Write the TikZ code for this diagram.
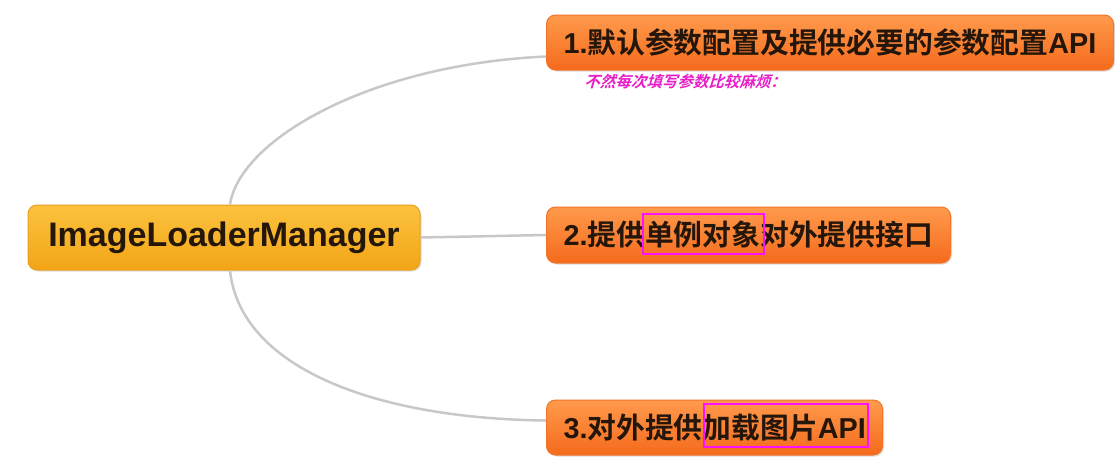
\documentclass[tikz,border=0pt]{standalone}
\usepackage{fontspec}
\newfontfamily\cjkb{Noto Sans CJK SC Bold}
\newfontfamily\latb{Liberation Sans Bold}
\newcommand{\lt}[1]{{\latb #1}}
\usetikzlibrary{shadows,calc}
\definecolor{orgtop}{HTML}{FF9A4C}
\definecolor{orgbot}{HTML}{F56A1C}
\definecolor{orgline}{HTML}{F0742A}
\definecolor{goldtop}{HTML}{FCC23E}
\definecolor{goldbot}{HTML}{F2A516}
\definecolor{goldline}{HTML}{E8A020}
\definecolor{txt}{HTML}{24160A}
\definecolor{conn}{HTML}{C8C8C8}
\definecolor{mag}{HTML}{FF10FF}
\definecolor{note}{HTML}{E81EC8}
\tikzset{
  topic/.style={rounded corners=9pt, top color=orgtop, bottom color=orgbot, draw=orgline, line width=1pt,
    drop shadow={shadow xshift=1.5pt, shadow yshift=-1.5pt, opacity=0.25},
    text=txt, font=\cjkb\fontsize{28.8}{32}\selectfont, inner sep=0pt, anchor=west, align=left},
  central/.style={rounded corners=9pt, top color=goldtop, bottom color=goldbot, draw=goldline, line width=1pt,
    drop shadow={shadow xshift=1.5pt, shadow yshift=-1.5pt, opacity=0.25},
    text=txt, font=\latb\fontsize{34}{38}\selectfont, inner sep=0pt},
  conline/.style={draw=conn, line width=2.5pt},
  hilite/.style={draw=mag, line width=2pt, fill=none},
  notetext/.style={text=note, font=\cjkb\fontsize{15.5}{17}\selectfont, inner sep=0pt, anchor=west}
}
\begin{document}
\begin{tikzpicture}[x=1pt,y=-1pt]
\useasboundingbox (0,0) rectangle (1119,472);
\fill[white] (0,0) rectangle (1119,472);
% central
\node[central, minimum width=392pt, minimum height=65pt] (c) at (224,237.5) {ImageLoaderManager};
% topics
\node[topic, minimum width=567pt, minimum height=55pt, text width=567pt] (b1) at (546,42.5) {\hspace{17pt}\lt{1.}默认参数配置及提供必要的参数配置\lt{API}};
\node[topic, minimum width=404pt, minimum height=56pt, text width=404pt] (b2) at (546,235) {\hspace{17pt}\lt{2.}提供单例对象对外提供接口};
\node[topic, minimum width=336pt, minimum height=55pt, text width=336pt] (b3) at (546,427.5) {\hspace{17pt}\lt{3.}对外提供加载图片\lt{API}};
% note
\node[notetext, xslant=0.3] (n) at (586,82) {不然每次填写参数比较麻烦：};
% connectors
\draw[conline] ([xshift=6pt]c.north) .. controls ($(c.north)+(16,-65)$) and ($(b1.west)+(-176,22)$) .. ([yshift=-14pt]b1.west);
\draw[conline] (c.east) -- (b2.west);
\draw[conline] ([xshift=6pt]c.south) .. controls ($(c.south)+(16,95)$) and ($(b3.west)+(-176,-9)$) .. ([yshift=7pt]b3.west);
% highlight boxes
\node[hilite, minimum width=121pt, minimum height=40pt, inner sep=0pt] (h1) at (703.5,234) {};
\node[hilite, minimum width=164pt, minimum height=43pt, inner sep=0pt] (h2) at (786,425.5) {};
\end{tikzpicture}
\end{document}
